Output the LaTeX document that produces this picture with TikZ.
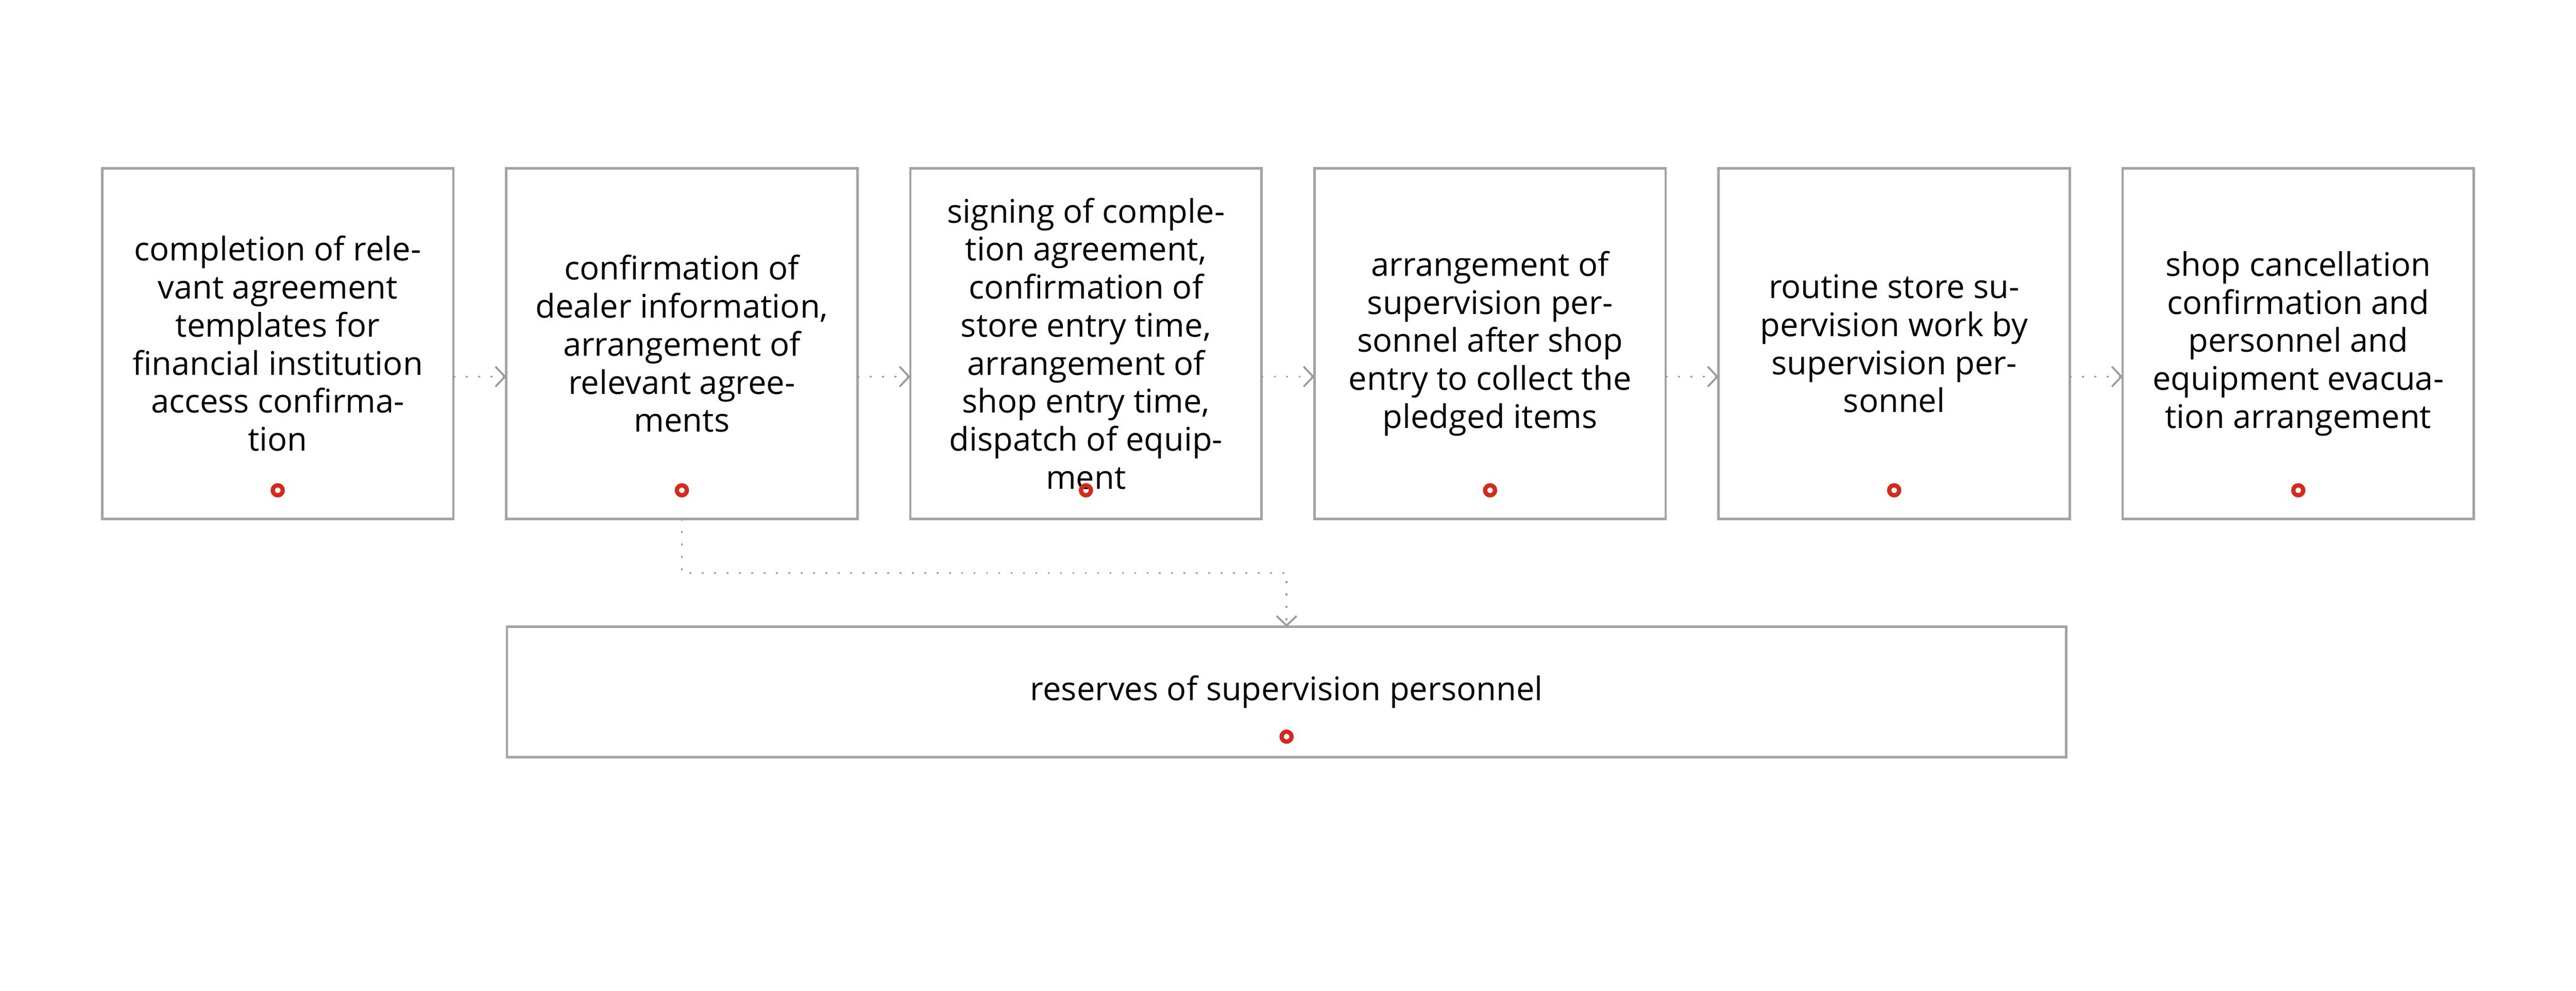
\documentclass[tikz,border=0pt]{standalone}
\usepackage{fontspec}
\setmainfont{Open Sans}
\usetikzlibrary{arrows.meta,positioning}
\definecolor{boxgray}{RGB}{163,163,163}
\definecolor{dotgray}{RGB}{155,155,155}
\definecolor{ringred}{RGB}{214,41,28}
\tikzstyle{every picture}+=[
  pnode/.style={fill=white,shape=rectangle,draw=boxgray,line width=0.05cm,outer sep=0pt,
    minimum width=7.39cm,minimum height=7.37cm,align=center,
    font=\fontsize{19.5}{22.76}\selectfont},
  rnode/.style={pnode,minimum width=32.81cm,minimum height=2.74cm},
  ringnode/.style={shape=circle,draw=ringred,line width=0.09cm,minimum size=0.21cm,inner sep=0pt},
  fedge/.style={draw=dotgray,line width=0.04cm,dash pattern=on 0.04cm off 0.22cm,
    -{Straight Barb[length=0.2cm,width=0.42cm]}}
]
\def\boxsep{1.114cm}
\def\arrdrop{0.695cm}

\begin{document}
\begin{tikzpicture}
      \useasboundingbox (0,0) rectangle (54.21,20.83);
      \node[style=pnode] (b1) at (5.845,13.605) {completion of rele-\\vant agreement\\templates for\\financial institution\\access confirma-\\tion};
      \node[style=pnode,right = \boxsep] at (b1.east) (b2) {confirmation of\\dealer information,\\arrangement of\\relevant agree-\\ments};
      \node[style=pnode,right = \boxsep] at (b2.east) (b3) {signing of comple-\\tion agreement,\\confirmation of\\store entry time,\\arrangement of\\shop entry time,\\dispatch of equip-\\ment};
      \node[style=pnode,right = \boxsep] at (b3.east) (b4) {arrangement of\\supervision per-\\sonnel after shop\\entry to collect the\\pledged items};
      \node[style=pnode,right = \boxsep] at (b4.east) (b5) {routine store su-\\pervision work by\\supervision per-\\sonnel};
      \node[style=pnode,right = \boxsep] at (b5.east) (b6) {shop cancellation\\confirmation and\\personnel and\\equipment evacua-\\tion arrangement};
      \node[style=rnode] (res) at (27.075,6.28) {reserves of supervision personnel};
      %
      \node[style=ringnode,above = 0.45cm] at (b1.south) (r1) {};
      \node[style=ringnode,above = 0.45cm] at (b2.south) (r2) {};
      \node[style=ringnode,above = 0.45cm] at (b3.south) (r3) {};
      \node[style=ringnode,above = 0.45cm] at (b4.south) (r4) {};
      \node[style=ringnode,above = 0.45cm] at (b5.south) (r5) {};
      \node[style=ringnode,above = 0.45cm] at (b6.south) (r6) {};
      \node[style=ringnode,above = 0.28cm] at (res.south) (r7) {};
      %
      \path [fedge] ([yshift=-\arrdrop]b1.east) -- ([yshift=-\arrdrop]b2.west);
      \path [fedge] ([yshift=-\arrdrop]b2.east) -- ([yshift=-\arrdrop]b3.west);
      \path [fedge] ([yshift=-\arrdrop]b3.east) -- ([yshift=-\arrdrop]b4.west);
      \path [fedge] ([yshift=-\arrdrop]b4.east) -- ([yshift=-\arrdrop]b5.west);
      \path [fedge] ([yshift=-\arrdrop]b5.east) -- ([yshift=-\arrdrop]b6.west);
      \path [fedge] (b2.south) -- ++(0,-1.14) -| (res.north);
      %
\end{tikzpicture}
\end{document}
